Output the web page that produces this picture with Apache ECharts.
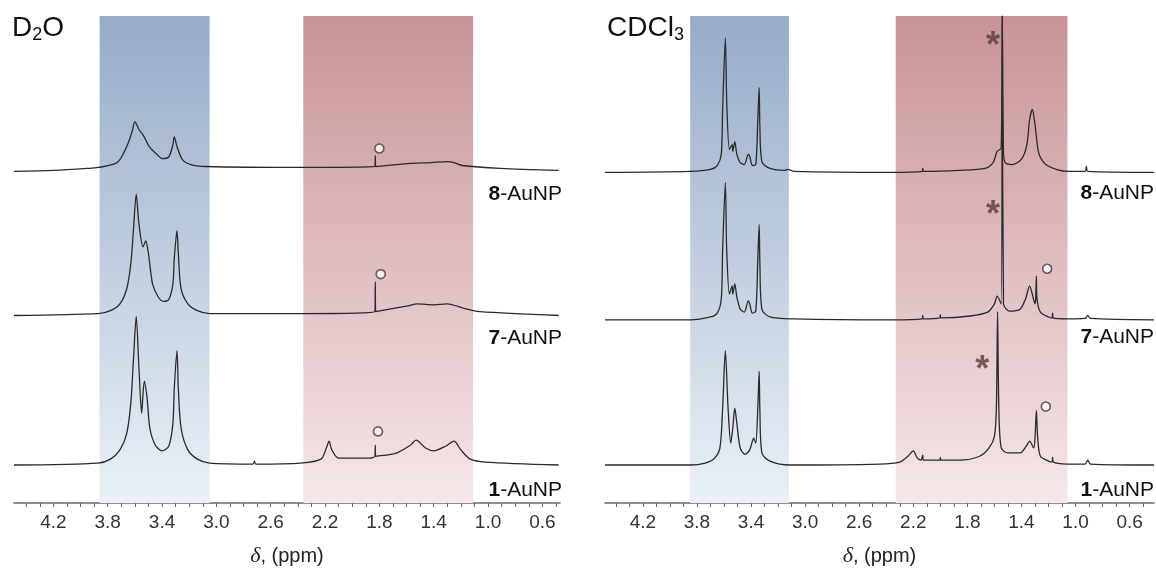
<!DOCTYPE html>
<html>
<head>
<meta charset="utf-8">
<script src="https://cdn.jsdelivr.net/npm/echarts@6.0.0/dist/echarts.min.js"></script>
<style>
  html, body { margin: 0; padding: 0; background: #fff; }
  #chart { width: 1156px; height: 572px; }
</style>
</head>
<body>
<div id="chart"></div>
<script>
// ---- axis ticks (ppm) ----
const tickLabels = [4.2, 3.8, 3.4, 3.0, 2.6, 2.2, 1.8, 1.4, 1.0, 0.6]
const minorTicks = [4.4, 4.3, 4.2, 4.1, 4.0, 3.9, 3.8, 3.7, 3.6, 3.5, 3.4, 3.3, 3.2, 3.1, 3.0, 2.9, 2.8, 2.7, 2.6, 2.5,
  2.4, 2.3, 2.2, 2.1, 2.0, 1.9, 1.8, 1.7, 1.6, 1.5, 1.4, 1.3, 1.2, 1.1, 1.0, 0.9, 0.8, 0.7, 0.6, 0.5]

// ---- shaded ppm windows ----
const d2oBlue = [3.86, 3.05]
const d2oRed = [2.36, 1.11]
const cdcBlue = [3.85, 3.12]
const cdcRed = [2.33, 1.06]

// ---- D2O spectra (ppm, intensity above own baseline) ----
const d2oPpm8 = [4.49, 4.2, 3.95, 3.87, 3.73, 3.66, 3.62, 3.60, 3.57, 3.54, 3.49, 3.43, 3.40, 3.35, 3.32, 3.31, 3.29, 3.25, 3.19, 3.08,
  2.38, 1.833, 1.83, 1.827, 1.59, 1.42, 1.30, 1.25, 1.19, 0.91, 0.48]
const d2oInt8 = [-0.8, -0.6, -0.2, 0, 1.0, 4.3, 7.4, 9.4, 7.8, 6.7, 4.1, 2.5, 1.8, 2.2, 4.7, 6.3, 4.3, 1.6, 0.6, 0.2,
  0, 0.2, 2.4, 0.2, 0.8, 1.0, 1.2, 1.0, 0.4, -0.2, -0.6]

const d2oPpm7 = [4.49, 3.87, 3.78, 3.71, 3.66, 3.63, 3.61, 3.59, 3.57, 3.54, 3.52, 3.50, 3.47, 3.43, 3.39, 3.35, 3.32, 3.31, 3.29, 3.28,
  3.26, 3.21, 3.14, 3.05, 2.38, 1.833, 1.83, 1.827, 1.59, 1.52, 1.40, 1.30, 1.17, 1.06, 0.48]
const d2oInt7 = [-0.2, 0.2, 0.8, 2.2, 5.3, 10.4, 17.6, 24.7, 18.6, 13.9, 15.1, 12.5, 6.3, 3.7, 2.7, 3.1, 6.3, 11.5, 17.2, 12.5,
  5.3, 2.2, 0.8, 0.2, 0.2, 0.6, 6.7, 0.6, 1.8, 2.2, 2.0, 2.2, 1.2, 0.6, -0.2]

const d2oPpm1 = [4.49, 3.87, 3.78, 3.71, 3.66, 3.63, 3.61, 3.59, 3.57, 3.55, 3.54, 3.53, 3.51, 3.49, 3.45, 3.40, 3.35, 3.32, 3.31, 3.29,
  3.28, 3.26, 3.21, 3.14, 3.05, 2.73, 2.72, 2.71, 2.38, 2.23, 2.19, 2.17, 2.15, 2.10, 1.87, 1.833, 1.83, 1.827, 1.68, 1.57,
  1.53, 1.46, 1.40, 1.31, 1.25, 1.20, 1.13, 1.02, 0.48]
const d2oInt1 = [-0.2, 0.2, 1.0, 2.9, 6.3, 12.5, 21.7, 30.3, 19.6, 10.4, 14.5, 17.0, 13.5, 7.4, 3.9, 2.7, 3.7, 8.4, 15.5, 23.3,
  15.5, 7.4, 2.9, 1.0, 0.2, 0, 0.6, 0, 0.2, 1.0, 3.3, 4.7, 2.9, 1.2, 1.2, 1.6, 3.9, 1.6, 2.2, 3.9,
  4.9, 3.3, 2.7, 3.7, 4.7, 2.9, 1.0, 0.4, -0.2]

// ---- CDCl3 spectra ----
const cdcPpm8 = [4.48, 3.85, 3.70, 3.65, 3.62, 3.61, 3.59, 3.58, 3.56, 3.54, 3.535, 3.52, 3.505, 3.48, 3.45, 3.42, 3.41, 3.39, 3.365, 3.35,
  3.34, 3.335, 3.32, 3.26, 3.15, 3.13, 3.08, 2.37, 2.135, 2.13, 2.125, 1.86, 1.67, 1.61, 1.58, 1.55, 1.542, 1.533, 1.52, 1.47,
  1.40, 1.36, 1.34, 1.32, 1.30, 1.27, 1.21, 1.06, 0.93, 0.92, 0.91, 0.42]
const cdcInt8 = [0, 0.2, 0.6, 1.4, 3.7, 12.9, 27.6, 14.9, 4.7, 5.7, 4.3, 6.3, 3.7, 2.0, 1.6, 3.7, 3.3, 1.4, 1.6, 10.8,
  17.4, 9.8, 2.2, 0.8, 0.4, 0.6, 0.2, 0, 0.2, 0.8, 0.2, 0.4, 0.8, 2.0, 4.3, 5.0, 32.1, 4.0, 2.0, 1.6,
  2.7, 5.7, 10.8, 12.9, 9.8, 3.7, 1.4, 0.2, 0.2, 1.2, 0.2, 0]

const cdcPpm7 = [4.48, 3.85, 3.70, 3.65, 3.62, 3.61, 3.59, 3.58, 3.56, 3.54, 3.535, 3.52, 3.505, 3.48, 3.45, 3.42, 3.41, 3.39, 3.365, 3.35,
  3.34, 3.335, 3.32, 3.26, 3.08, 2.37, 2.135, 2.13, 2.125, 2.005, 2.0, 1.995, 1.78, 1.65, 1.60, 1.58, 1.55, 1.542, 1.533, 1.49,
  1.41, 1.37, 1.34, 1.32, 1.30, 1.295, 1.29, 1.285, 1.26, 1.20, 1.175, 1.17, 1.165, 1.06, 0.93, 0.91, 0.89, 0.42]
const cdcInt7 = [0, 0, 0.6, 1.4, 4.3, 14.5, 28.2, 14.5, 5.3, 7.0, 5.3, 7.4, 4.7, 2.2, 1.6, 3.9, 3.3, 1.4, 1.8, 12.5,
  19.6, 12.1, 2.2, 0.6, 0.2, 0, 0.2, 0.9, 0.2, 0.4, 1.0, 0.4, 0.8, 1.6, 3.3, 4.9, 3.3, 62.4, 3.3, 1.8,
  2.2, 4.3, 7.0, 5.3, 3.3, 4.3, 9.0, 4.3, 1.6, 0.6, 0.4, 1.4, 0.4, 0.2, 0.3, 0.9, 0.3, 0]

const cdcPpm1 = [4.48, 3.85, 3.74, 3.67, 3.63, 3.61, 3.59, 3.57, 3.55, 3.535, 3.52, 3.505, 3.48, 3.445, 3.41, 3.38, 3.365, 3.35, 3.34, 3.335,
  3.32, 3.26, 3.11, 2.45, 2.30, 2.24, 2.20, 2.17, 2.14, 2.135, 2.13, 2.125, 2.005, 2.0, 1.995, 1.86, 1.71, 1.64, 1.60, 1.585,
  1.577, 1.568, 1.55, 1.50, 1.41, 1.36, 1.34, 1.31, 1.30, 1.29, 1.28, 1.26, 1.20, 1.175, 1.17, 1.165, 1.06, 0.93, 0.91, 0.89,
  0.42]
const cdcInt1 = [0, 0, 0.4, 1.4, 3.5, 11.7, 23.5, 11.7, 4.5, 7.6, 11.7, 8.6, 3.5, 2.2, 3.1, 5.5, 4.5, 11.7, 19.2, 11.7,
  2.5, 0.8, 0, 0.2, 0.6, 1.8, 2.9, 1.4, 1.0, 1.0, 2.0, 1.0, 1.0, 1.5, 1.0, 1.0, 1.8, 3.5, 5.9, 12.5,
  31.5, 12.5, 3.5, 2.5, 2.5, 4.1, 4.9, 3.5, 5.5, 11.2, 5.5, 1.8, 0.8, 0.6, 1.6, 0.6, 0.2, 0.2, 1.0, 0.2,
  0]

// vertical stacking offsets [1-AuNP, 7-AuNP, 8-AuNP]
const d2oOffsets = [8.0, 38.7, 68.9]
const cdcOffsets = [7.8, 37.6, 67.9]

// annotation marks [ppm, level]
const d2oCircles = [[1.80, 72.8], [1.79, 47.0], [1.81, 14.7]]
const cdcCircles = [[1.21, 48.1], [1.22, 19.8]]
const cdcStars = [[1.61, 95.7], [1.61, 60.9], [1.69, 29.2]]

const sampleNames = ['1', '7', '8']

const chart = echarts.init(document.getElementById('chart'), null, { renderer: 'canvas' })

const grad = (top, bottom) => new echarts.graphic.LinearGradient(0, 0, 0, 1, [
  { offset: 0, color: top },
  { offset: 1, color: bottom },
])
const blueGrad = () => grad('#97acc8', '#eaf0f7')
const redGrad = () => grad('#c89397', '#f6e7e8')

function bands(idx, blue, red) {
  return {
    type: 'line',
    xAxisIndex: idx,
    yAxisIndex: idx,
    data: [],
    silent: true,
    z: 1,
    markArea: {
      silent: true,
      data: [
        [{ xAxis: blue[0], itemStyle: { color: blueGrad() } }, { xAxis: blue[1] }],
        [{ xAxis: red[0], itemStyle: { color: redGrad() } }, { xAxis: red[1] }],
      ],
    },
  }
}

function spectrum(idx, ppm, ints, offset) {
  return {
    type: 'line',
    xAxisIndex: idx,
    yAxisIndex: idx,
    data: ppm.map((p, i) => [p, ints[i] + offset]),
    symbol: 'none',
    smooth: 0.28,
    silent: true,
    z: 3,
    lineStyle: { color: '#2a2a2a', width: 1.3 },
  }
}

function circles(idx, pts) {
  return {
    type: 'scatter',
    xAxisIndex: idx,
    yAxisIndex: idx,
    data: pts,
    symbol: 'circle',
    symbolSize: 9,
    silent: true,
    z: 4,
    itemStyle: { color: '#fff', borderColor: '#4a3a3a', borderWidth: 1.6 },
  }
}

function stars(idx, pts) {
  return {
    type: 'scatter',
    xAxisIndex: idx,
    yAxisIndex: idx,
    data: pts,
    symbolSize: 0,
    silent: true,
    z: 4,
    label: {
      show: true,
      position: 'inside',
      formatter: '*',
      fontFamily: 'Liberation Sans',
      fontSize: 36,
      fontWeight: 'bold',
      color: '#5a3c3c',
      offset: [0, 10],
    },
  }
}

function xAxisFor(idx, min, max) {
  return {
    gridIndex: idx,
    type: 'value',
    inverse: true,
    min,
    max,
    splitLine: { show: false },
    axisLine: { lineStyle: { color: '#6a6a6a', width: 1.5 } },
    axisTick: { customValues: minorTicks, length: 4, lineStyle: { color: '#6a6a6a' } },
    axisLabel: {
      customValues: tickLabels,
      formatter: (v) => v.toFixed(1),
      fontFamily: 'Liberation Sans',
      fontSize: 19,
      color: '#333',
      margin: 10,
    },
    name: '{i|δ}{t|, (ppm)}',
    nameLocation: 'middle',
    nameGap: 42,
    nameTextStyle: {
      rich: {
        i: { fontFamily: 'Liberation Serif', fontStyle: 'italic', fontSize: 22, color: '#222' },
        t: { fontFamily: 'Liberation Sans', fontSize: 20, color: '#222' },
      },
    },
  }
}

const labelTitle = (num, right, top) => ({
  text: `{b|${num}}{n|-AuNP}`,
  right,
  top,
  padding: 0,
  textStyle: {
    fontWeight: 'normal',
    rich: {
      b: { fontFamily: 'Liberation Sans', fontSize: 21, fontWeight: 'bold', color: '#111' },
      n: { fontFamily: 'Liberation Sans', fontSize: 21, fontWeight: 'normal', color: '#111' },
    },
  },
})

const solventTitle = (main, sub, tail, left) => ({
  text: `{n|${main}}{s|${sub}}{n|${tail}}`,
  left,
  top: 12,
  padding: 0,
  textStyle: {
    fontWeight: 'normal',
    rich: {
      n: { fontFamily: 'Liberation Sans', fontSize: 28, fontWeight: 'normal', color: '#111', lineHeight: 32 },
      s: { fontFamily: 'Liberation Sans', fontSize: 18, fontWeight: 'normal', color: '#111', lineHeight: 32, padding: [14, 0, 0, 0] },
    },
  },
})

const labelTopsLeft = [480, 328, 184]
const labelTopsRight = [480, 327, 183]

const option = {
  animation: false,
  backgroundColor: '#fff',
  title: [
    solventTitle('D', '2', 'O', 12),
    solventTitle('CDCl', '3', '', 607),
    ...sampleNames.map((n, i) => labelTitle(n, 594, labelTopsLeft[i])),
    ...sampleNames.map((n, i) => labelTitle(n, 2, labelTopsRight[i])),
  ],
  grid: [
    { left: 14, width: 546, top: 16, bottom: 67 },
    { left: 605, width: 549, top: 16, bottom: 67 },
  ],
  xAxis: [xAxisFor(0, 0.47, 4.49), xAxisFor(1, 0.42, 4.48)],
  yAxis: [
    { gridIndex: 0, type: 'value', min: 0, max: 100, show: false },
    { gridIndex: 1, type: 'value', min: 0, max: 100, show: false },
  ],
  series: [
    bands(0, d2oBlue, d2oRed),
    bands(1, cdcBlue, cdcRed),
    spectrum(0, d2oPpm1, d2oInt1, d2oOffsets[0]),
    spectrum(0, d2oPpm7, d2oInt7, d2oOffsets[1]),
    spectrum(0, d2oPpm8, d2oInt8, d2oOffsets[2]),
    spectrum(1, cdcPpm1, cdcInt1, cdcOffsets[0]),
    spectrum(1, cdcPpm7, cdcInt7, cdcOffsets[1]),
    spectrum(1, cdcPpm8, cdcInt8, cdcOffsets[2]),
    circles(0, d2oCircles),
    circles(1, cdcCircles),
    stars(1, cdcStars),
  ],
}

chart.setOption(option)
</script>
</body>
</html>
